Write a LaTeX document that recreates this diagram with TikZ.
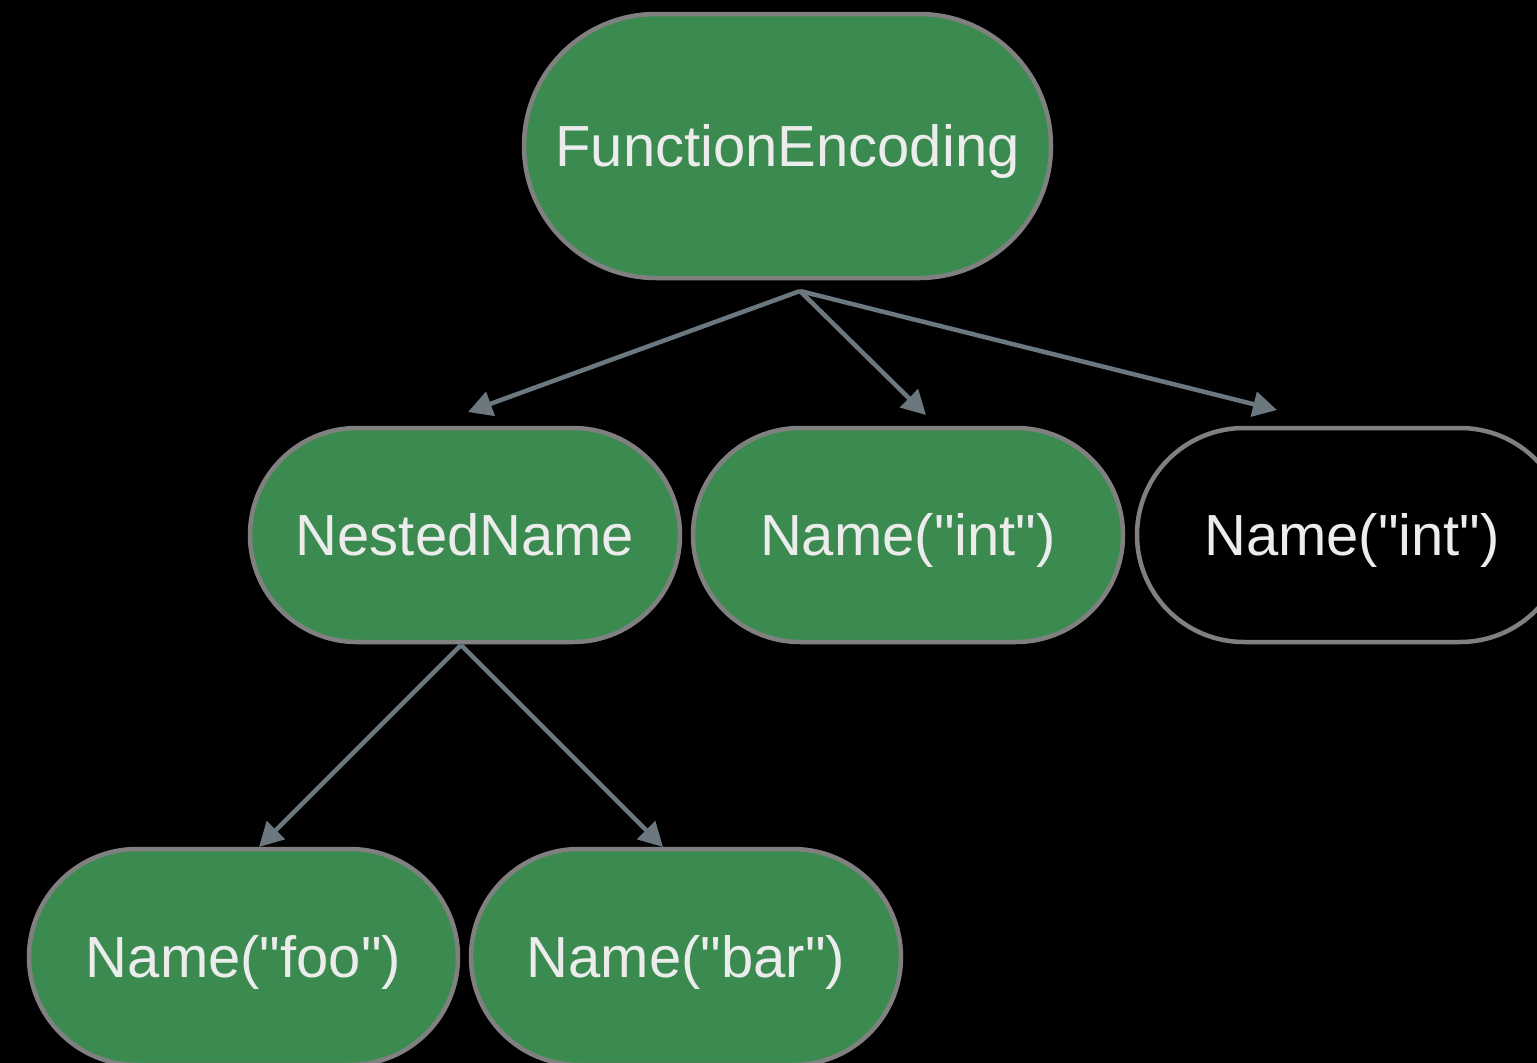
\documentclass[tikz,border=0pt]{standalone}
\usepackage{fontspec}
\setmainfont{Liberation Sans}[Ligatures=TeXOff]
\usetikzlibrary{arrows.meta}
\definecolor{nodegreen}{RGB}{59,139,80}
\definecolor{nodeborder}{RGB}{128,128,128}
\definecolor{edgecol}{RGB}{108,120,128}
\definecolor{txtcol}{RGB}{236,236,236}
\begin{document}
\begin{tikzpicture}[x=1pt,y=-1pt,
  stadium/.style={draw=nodeborder, line width=4.5pt, rounded corners=#1, inner sep=0pt,
    text=txtcol, font=\fontsize{58}{60}\selectfont, text height=41.5pt, text depth=0pt},
  greennode/.style={stadium=#1, fill=nodegreen},
  blacknode/.style={stadium=#1, fill=black},
  edge/.style={draw=edgecol, line width=4.5pt, -{Triangle[length=24pt,width=25pt]}}]
\fill[black] (0,0) rectangle (1537,1063);
\useasboundingbox (0,0) rectangle (1537,1063);
% nodes
\node[greennode=132pt, minimum width=527pt, minimum height=264pt] (fe) at (787.5,146) {FunctionEncoding};
\node[greennode=107pt, minimum width=430pt, minimum height=214pt] (nn) at (465,535) {NestedName};
\node[greennode=107pt, minimum width=430pt, minimum height=214pt] (int1) at (908,535) {Name("int")};
\node[blacknode=107pt, minimum width=430pt, minimum height=214pt] (int2) at (1352,535) {Name("int")};
\node[greennode=108pt, minimum width=429pt, minimum height=216pt] (foo) at (243.5,957) {Name("foo")};
\node[greennode=108pt, minimum width=430pt, minimum height=216pt] (bar) at (686,957) {Name("bar")};
% connector endpoints
\coordinate (feout) at (800,291);
\coordinate (nnin) at (468,412);
\coordinate (int1in) at (926,415);
\coordinate (int2in) at (1277,410);
\coordinate (nnout) at (461,645);
\coordinate (fooin) at (259,847);
\coordinate (barin) at (663,847);
\draw[edge] (feout) -- (nnin);
\draw[edge] (feout) -- (int1in);
\draw[edge] (feout) -- (int2in);
\draw[edge] (nnout) -- (fooin);
\draw[edge] (nnout) -- (barin);
\end{tikzpicture}
\end{document}
